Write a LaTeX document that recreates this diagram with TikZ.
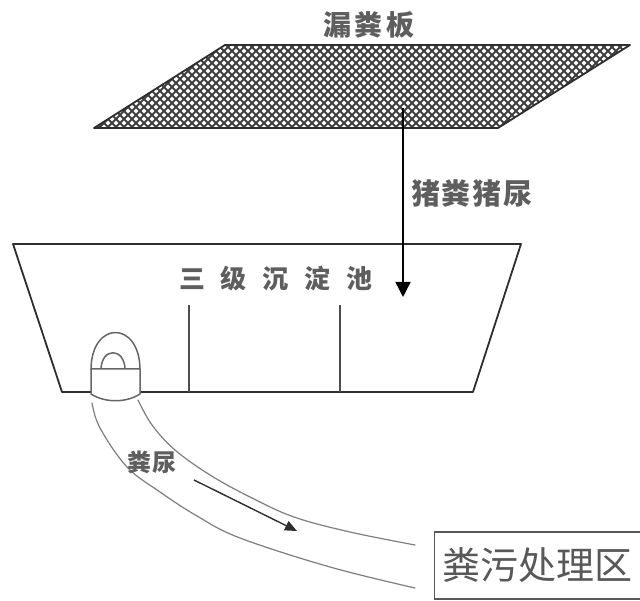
\documentclass[tikz,border=0pt]{standalone}
\usepackage{fontspec}
\setmainfont{Noto Sans CJK SC}
\usetikzlibrary{arrows.meta}
\definecolor{ink}{HTML}{2E2E2E}
\definecolor{meshgray}{HTML}{404040}
\definecolor{labelgray}{HTML}{5E5E5E}
\definecolor{pipegray}{HTML}{7E7E7E}
\definecolor{fitgray}{HTML}{666666}
\begin{document}
\begin{tikzpicture}[x=1pt,y=-1pt,
  wall/.style={draw=ink,line width=1.8pt,line join=round},
  divider/.style={draw=ink!85,line width=1.8pt},
  meshline/.style={draw=meshgray,line width=2.1pt},
  fitline/.style={draw=fitgray,line width=1.5pt,line join=round},
  pipeline/.style={draw=pipegray,line width=1.2pt,line cap=round},
  drop/.style={draw=black,line width=1.4pt,-{Triangle[width=15pt,length=15pt]}},
  pipeflow/.style={draw=ink,line width=1.4pt,-{Triangle[width=10pt,length=12pt]}},
  caption/.style={text=labelgray,inner sep=0pt,font=\bfseries},
  plantbox/.style={draw=ink!80,line width=1.4pt,text=ink!80,font=\fontsize{38}{40}\selectfont,
    minimum height=67pt,text width=204pt,inner xsep=8pt,align=left}
]
\useasboundingbox (0,0) rectangle (640,601);

% slatted floor: cross-hatched parallelogram
\begin{scope}
  \clip (225,45) -- (630,45) -- (498,128) -- (94,128) -- cycle;
  \foreach \k in {-120,-112,...,770} {
    \draw[meshline] (\k,35) -- ++(105,105);
    \draw[meshline] (\k,35) -- ++(-105,105);
  }
\end{scope}
\draw[wall] (225,45) -- (630,45) -- (498,128) -- (94,128) -- cycle;
\node[caption,font=\bfseries\fontsize{28}{30}\selectfont] (board) at (369,25)
  {漏\hspace{4pt}粪\hspace{4pt}板};

% settling tank
\draw[wall] (13,244) -- (521,244) -- (473,392) -- (62,392) -- cycle;
\draw[divider] (189,305) -- (189,392);
\draw[divider] (340,305) -- (340,392);
\node[caption,font=\bfseries\fontsize{26}{28}\selectfont] (tank) at (276,279)
  {三\hspace{16pt}级\hspace{16pt}沉\hspace{16pt}淀\hspace{16pt}池};

% manure falling from the floor into the tank
\coordinate (dropfrom) at (403,108);
\coordinate (dropto) at (403,297);
\draw[drop] (dropfrom) -- (dropto);
\node[caption,font=\bfseries\fontsize{29}{31}\selectfont] (droplabel) at (472,193)
  {猪\hspace{2pt}粪\hspace{2pt}猪\hspace{2pt}尿};

% outlet fitting at the tank bottom
\draw[fitline,fill=white] (91,370) .. controls (91,320) and (140,320) .. (140,370);
\draw[fitline] (101,370) .. controls (101,347) and (125,347) .. (125,370);
\draw[fitline,fill=white] (91,369) -- (91,394) .. controls (105,403) and (126,403) .. (140,394)
  -- (140,369) -- cycle;

% discharge pipe
\draw[pipeline] plot[smooth,tension=0.6] coordinates
  {(138,400) (152,425) (175,450) (210,475) (250,497) (294,517) (350,532) (415,545)};
\draw[pipeline] plot[smooth,tension=0.6] coordinates
  {(92,403) (100,428) (127,467) (160,492) (197,516) (240,538) (330,567) (415,588)};
\node[caption,font=\bfseries\fontsize{24}{26}\selectfont] (pipelabel) at (152,462)
  {粪\hspace{1pt}尿};
\coordinate (flowfrom) at (194,480);
\coordinate (flowto) at (297,531);
\draw[pipeflow] (flowfrom) -- (flowto);

% treatment area
\node[plantbox,anchor=west] (plant) at (434,565.5) {粪污处理区};
\end{tikzpicture}
\end{document}
